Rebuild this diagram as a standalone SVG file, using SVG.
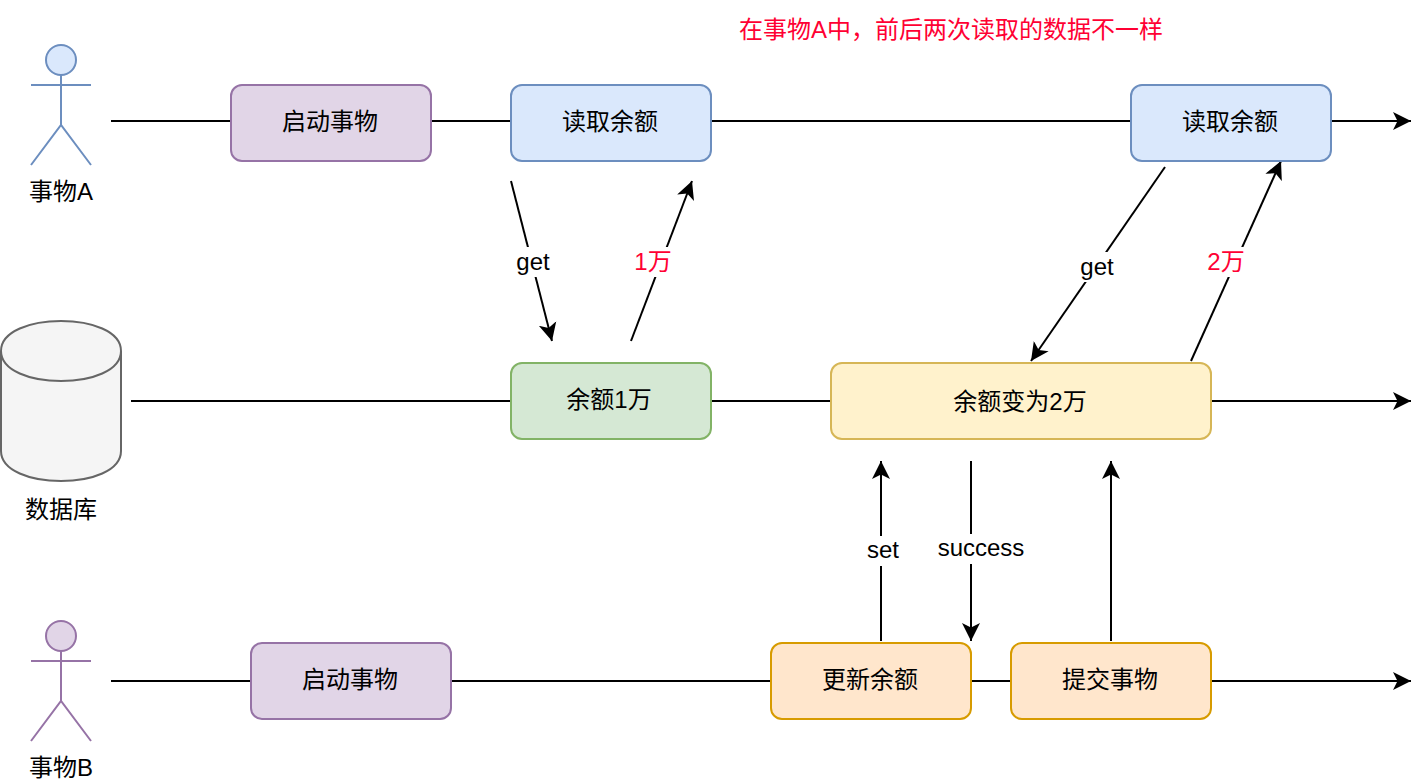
<svg xmlns="http://www.w3.org/2000/svg" width="1428" height="784" viewBox="0 0 1428 784">
<style>
text{font-family:"Liberation Sans","Noto Sans CJK SC",sans-serif;font-size:24px;text-anchor:middle;fill:#000}
.red{fill:#ff0033}
.c{fill:none;stroke:#000;stroke-width:2}
.b{stroke-width:2}
.purple{fill:#e1d5e7;stroke:#9673a6}
.blue{fill:#dae8fc;stroke:#6c8ebf}
.green{fill:#d5e8d4;stroke:#82b366}
.yellow{fill:#fff2cc;stroke:#d6b656}
.orange{fill:#ffe6cc;stroke:#d79b00}
.lbl{fill:#fff;stroke:none}
</style>
<defs>
<marker id="arr" markerUnits="userSpaceOnUse" markerWidth="20" markerHeight="20" refX="18" refY="10" orient="auto">
<path d="M0 1L18 10L0 19L4.5 10Z" fill="#000"/>
</marker>
</defs>
<g id="connectors">
<path class="c" d="M111 121H1411" marker-end="url(#arr)"/>
<path class="c" d="M131 401H1411" marker-end="url(#arr)"/>
<path class="c" d="M111 681H1411" marker-end="url(#arr)"/>
<path class="c" d="M511 181L552 341" marker-end="url(#arr)"/>
<path class="c" d="M631 341L692 181" marker-end="url(#arr)"/>
<path class="c" d="M1165 167L1031 361" marker-end="url(#arr)"/>
<path class="c" d="M1191 361L1281 161" marker-end="url(#arr)"/>
<path class="c" d="M881 641V461" marker-end="url(#arr)"/>
<path class="c" d="M971 461V641" marker-end="url(#arr)"/>
<path class="c" d="M1111 641V461" marker-end="url(#arr)"/>
<rect class="lbl" x="513" y="247" width="40" height="30"/>
<text x="533" y="270">get</text>
<rect class="lbl" x="633" y="247" width="40" height="30"/>
<text class="red" x="653" y="270">1万</text>
<rect class="lbl" x="1077" y="252" width="40" height="30"/>
<text x="1097" y="275">get</text>
<rect class="lbl" x="1206" y="247" width="40" height="30"/>
<text class="red" x="1226" y="270">2万</text>
<rect class="lbl" x="865" y="536" width="36" height="30"/>
<text x="883" y="558">set</text>
<rect class="lbl" x="936" y="534" width="90" height="30"/>
<text x="981" y="556">success</text>
</g>
<g id="actorA">
<g class="blue b"><circle cx="61" cy="60" r="15"/><path fill="none" d="M61 75V125M31 85H91M31 165L61 125L91 165"/></g>
<text x="61" y="200">事物A</text>
</g>
<g id="database">
<path d="M1 351C1 311 121 311 121 351V451C121 491 1 491 1 451Z" fill="#f5f5f5" stroke="#666" stroke-width="2"/>
<path d="M1 351C1 391 121 391 121 351" fill="none" stroke="#666" stroke-width="2"/>
<text x="61" y="518">数据库</text>
</g>
<g id="actorB">
<g class="purple b"><circle cx="61" cy="636" r="15"/><path fill="none" d="M61 651V701M31 661H91M31 741L61 701L91 741"/></g>
<text x="61" y="776">事物B</text>
</g>
<g id="startA"><rect class="purple b" x="231" y="85" width="200" height="76" rx="11"/><text x="330" y="130">启动事物</text></g>
<g id="readA1"><rect class="blue b" x="511" y="85" width="200" height="76" rx="11"/><text x="610" y="130">读取余额</text></g>
<g id="readA2"><rect class="blue b" x="1131" y="85" width="200" height="76" rx="11"/><text x="1230" y="130">读取余额</text></g>
<g id="balance1"><rect class="green b" x="511" y="363" width="200" height="76" rx="11"/><text x="609" y="408">余额1万</text></g>
<g id="balance2"><rect class="yellow b" x="831" y="363" width="380" height="76" rx="11"/><text x="1020" y="410">余额变为2万</text></g>
<g id="startB"><rect class="purple b" x="251" y="643" width="200" height="76" rx="11"/><text x="350" y="688">启动事物</text></g>
<g id="updateB"><rect class="orange b" x="771" y="643" width="200" height="76" rx="11"/><text x="870" y="688">更新余额</text></g>
<g id="commitB"><rect class="orange b" x="1011" y="643" width="200" height="76" rx="11"/><text x="1110" y="688">提交事物</text></g>
<g id="note"><text class="red" x="951" y="38">在事物A中，前后两次读取的数据不一样</text></g>
</svg>
